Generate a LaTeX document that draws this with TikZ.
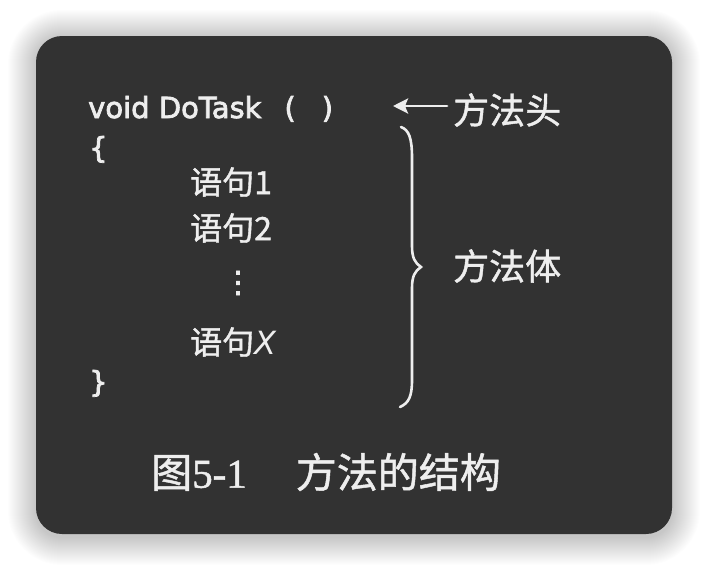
\documentclass[tikz,border=0pt]{standalone}
\usepackage{fontspec}
\setmainfont{DejaVu Sans}
\newfontfamily\codefam{DejaVu Sans}[FakeBold=2.5]
\newfontfamily\cjk{Noto Sans CJK SC}[FakeBold=1.2]
\newfontfamily\serifnum{Liberation Serif}[FakeBold=1.2]
\usetikzlibrary{arrows.meta}
\definecolor{fg}{HTML}{EEEEEE}
\definecolor{panel}{HTML}{323232}
\begin{document}
\begin{tikzpicture}[x=1pt,y=-1pt,
  txt/.style={text=fg, inner sep=0pt},
  codefont/.style={font=\fontsize{29}{33}\selectfont\codefam},
  stmt/.style={txt, anchor=west, font=\fontsize{32}{36}\selectfont\cjk},
  label/.style={txt, anchor=west, font=\fontsize{36}{40}\selectfont\cjk},
  wline/.style={draw=fg, line width=2.8pt, line cap=round}]
\useasboundingbox (0,0) rectangle (708,570);
\fill[white] (0,0) rectangle (708,570);
% soft shadow
\foreach \i in {1,...,28}{
  \fill[black, opacity=0.008, rounded corners=26pt+\i pt]
    (36-\i, 38-\i) rectangle (672+\i, 537+\i);
}
\fill[panel, rounded corners=26pt] (36,36) rectangle (672,534);
% code
\node[txt, codefont, anchor=base west] (code) at (88,118) {void DoTask\hspace{23pt}(\hspace{26pt})};
\node[txt, codefont, anchor=base west] (ob) at (89,158) {\{};
\node[stmt] (s1) at (190,182) {语句1};
\node[stmt] (s2) at (190,228) {语句2};
\node[txt, font=\fontsize{30}{34}\selectfont\codefam] (dots) at (238,283) {⋮};
\node[stmt] (sx) at (190,342) {语句{\fontsize{32}{36}\selectfont\itshape\rmfamily X}};
\node[txt, codefont, anchor=base west] (cb) at (89,392) {\}};
% labels
\node[label] (head) at (453,110) {方法头};
\node[label] (body) at (453,266) {方法体};
\coordinate (tip) at (393,106);
\draw[wline, -{Stealth[length=15pt,width=15pt,inset=3pt]}] ([xshift=-6pt]head.west |- tip) -- (tip);
% brace
\draw[wline, line width=2.6pt]
  (401,127) .. controls (409,130) and (412,138) .. (412,158)
  -- (412,246) .. controls (412,258) and (415,263) .. (421,267)
  .. controls (415,271) and (412,276) .. (412,288)
  -- (412,380) .. controls (412,396) and (409,403) .. (400,407);
% caption
\node[txt, anchor=west, font=\fontsize{41}{45}\selectfont] (cap) at (151,472)
  {{\cjk 图}{\serifnum 5-1}\hspace{49pt}{\cjk 方法的结构}};
\end{tikzpicture}
\end{document}
